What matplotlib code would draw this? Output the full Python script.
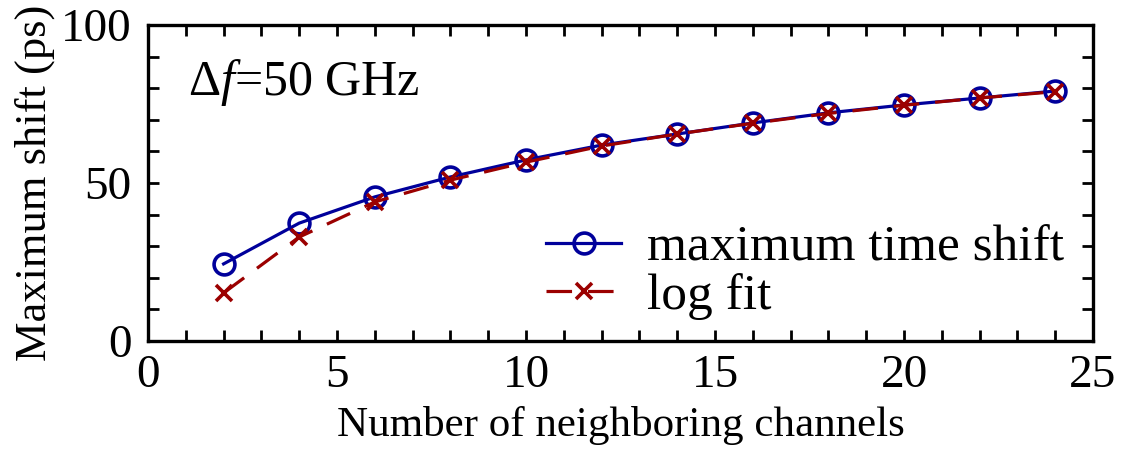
import numpy as np
import matplotlib.pyplot as plt
from matplotlib.ticker import MultipleLocator

plt.rcParams['font.family'] = ['Liberation Serif', 'DejaVu Serif']
plt.rcParams['mathtext.fontset'] = 'custom'
plt.rcParams['mathtext.rm'] = 'Liberation Serif'
plt.rcParams['mathtext.it'] = 'Liberation Serif:italic'

# number of neighbouring channels and the measured / fitted shift (ps)
channels = [2, 4, 6, 8, 10, 12, 14, 16, 18, 20, 22, 24]
max_shift = [24.4, 37.3, 45.6, 51.9, 57.3, 62.0, 65.5, 69.0, 72.2, 74.7, 76.9, 79.1]
log_fit = [15.2, 32.9, 44.0, 50.9, 56.6, 61.7, 65.5, 68.9, 72.0, 74.6, 76.9, 78.9]

blue = '#00009b'
red = '#9b0000'

fig = plt.figure(figsize=(11.28, 4.51), dpi=100)
ax = fig.add_axes([0.1312, 0.2439, 0.8378, 0.7007])

ax.plot(channels, max_shift, color=blue, lw=2.3, marker='o', ms=15,
        mfc='none', mew=2.6, label='maximum time shift')
ax.plot(channels, log_fit, color=red, lw=2.3, ls=(0, (8, 5)), marker='x',
        ms=12, mew=2.6, label='log fit')

ax.set_xlim(0, 25)
ax.set_ylim(0, 100)
ax.xaxis.set_major_locator(MultipleLocator(5))
ax.xaxis.set_minor_locator(MultipleLocator(1))
ax.yaxis.set_major_locator(MultipleLocator(50))
ax.yaxis.set_minor_locator(MultipleLocator(10))
ax.tick_params(which='both', direction='in', top=True, right=True,
               length=8, width=2, labelsize=34)
ax.tick_params(axis='x', pad=10)
ax.tick_params(axis='y', pad=12)
for s in ax.spines.values():
    s.set_linewidth(2.4)

ax.set_xlabel('Number of neighboring channels', fontsize=31, labelpad=6)
ax.set_ylabel('Maximum shift (ps)', fontsize=32, labelpad=4)

ax.text(0.042, 0.78, r'$\Delta f$=50 GHz', transform=ax.transAxes, fontsize=36)

leg = ax.legend(loc='lower left', bbox_to_anchor=(0.389, -0.03), frameon=False,
                fontsize=37, handlelength=1.45, handletextpad=0.5,
                labelspacing=0.02, borderaxespad=0.2)

fig.savefig('out.png', dpi=100)
